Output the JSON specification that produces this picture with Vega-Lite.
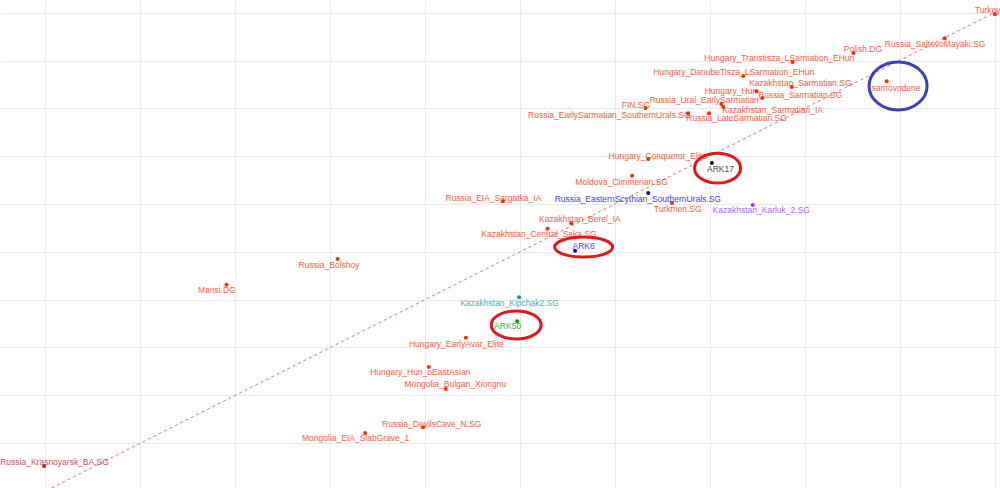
{
  "$schema": "https://vega.github.io/schema/vega-lite/v6.json",
  "width": 1000,
  "height": 488,
  "autosize": "none",
  "padding": 0,
  "background": "white",
  "config": {
    "view": {"stroke": null},
    "axis": {"labels": false, "ticks": false, "domain": false, "title": null, "grid": true, "gridColor": "#ebebeb", "gridWidth": 1},
    "text": {"font": "Liberation Sans"}
  },
  "datasets": {
    "pts": [
      {"name": "Turkey.DG", "grp": "ref", "x": 10.0, "y": 8.97, "lx": 10.0, "ly": 9.06},
      {"name": "Russia_SaltovoMayaki.SG", "grp": "ref", "x": 9.47, "y": 8.47, "lx": 9.37, "ly": 8.35},
      {"name": "Polish.DG", "grp": "ref", "x": 8.51, "y": 8.16, "lx": 8.61, "ly": 8.24},
      {"name": "Hungary_Transtisza_LSarmation_EHun", "grp": "ref", "x": 7.87, "y": 7.97, "lx": 7.73, "ly": 8.05},
      {"name": "Hungary_DanubeTisza_LSarmation_EHun", "grp": "ref", "x": 7.35, "y": 7.68, "lx": 7.25, "ly": 7.76},
      {"name": "Kazakhstan_Sarmatian.SG", "grp": "ref", "x": 7.86, "y": 7.45, "lx": 7.95, "ly": 7.53},
      {"name": "Hungary_Hun", "grp": "ref", "x": 7.49, "y": 7.36, "lx": 7.22, "ly": 7.36},
      {"name": "Russia_Sarmatian.SG", "grp": "ref", "x": 7.55, "y": 7.22, "lx": 7.95, "ly": 7.28},
      {"name": "Russia_Ural_EarlySarmatian", "grp": "ref", "x": 7.12, "y": 7.09, "lx": 6.94, "ly": 7.18},
      {"name": "Kazakhstan_Sarmatian_IA", "grp": "ref", "x": 7.14, "y": 7.03, "lx": 7.66, "ly": 6.97},
      {"name": "FIN.SG", "grp": "ref", "x": 6.32, "y": 7.01, "lx": 6.22, "ly": 7.07},
      {"name": "Russia_EarlySarmatian_SouthernUrals.SG", "grp": "ref", "x": 6.77, "y": 6.9, "lx": 5.94, "ly": 6.86},
      {"name": "Russia_LateSarmatian.SG", "grp": "ref", "x": 6.99, "y": 6.9, "lx": 7.28, "ly": 6.8},
      {"name": "samovodene", "grp": "ref", "x": 8.86, "y": 7.57, "lx": 8.96, "ly": 7.43},
      {"name": "Hungary_Conqueror_Elite", "grp": "ref", "x": 6.35, "y": 5.94, "lx": 6.45, "ly": 6.0},
      {"name": "ARK17", "grp": "ARK17", "x": 7.02, "y": 5.86, "lx": 7.11, "ly": 5.73},
      {"name": "Moldova_Cimmerian.SG", "grp": "ref", "x": 6.18, "y": 5.59, "lx": 6.07, "ly": 5.46},
      {"name": "Russia_EasternScythian_SouthernUrals.SG", "grp": "blue", "x": 6.35, "y": 5.23, "lx": 6.24, "ly": 5.1},
      {"name": "Turkmen.SG", "grp": "ref", "x": 6.6, "y": 5.02, "lx": 6.66, "ly": 4.9},
      {"name": "Kazakhstan_Karluk_2.SG", "grp": "karluk", "x": 7.45, "y": 4.98, "lx": 7.54, "ly": 4.87},
      {"name": "Kazakhstan_Berel_IA", "grp": "ref", "x": 5.54, "y": 4.6, "lx": 5.63, "ly": 4.69},
      {"name": "Kazakhstan_Central_Saka.SG", "grp": "ref", "x": 5.29, "y": 4.48, "lx": 5.2, "ly": 4.37},
      {"name": "ARK6", "grp": "blue", "x": 5.58, "y": 4.02, "lx": 5.67, "ly": 4.12},
      {"name": "Russia_EIA_Sargatka_IA", "grp": "ref", "x": 4.82, "y": 5.06, "lx": 4.72, "ly": 5.13},
      {"name": "Russia_Bolshoy", "grp": "ref", "x": 3.08, "y": 3.85, "lx": 2.99, "ly": 3.72},
      {"name": "Mansi.DG", "grp": "ref", "x": 1.91, "y": 3.31, "lx": 1.81, "ly": 3.2},
      {"name": "Kazakhstan_Kipchak2.SG", "grp": "kipchak", "x": 4.99, "y": 3.05, "lx": 4.89, "ly": 2.93},
      {"name": "ARK50", "grp": "ARK50", "x": 4.97, "y": 2.55, "lx": 4.87, "ly": 2.45},
      {"name": "Hungary_EarlyAvar_Elite", "grp": "ref", "x": 4.43, "y": 2.2, "lx": 4.33, "ly": 2.07},
      {"name": "Hungary_Hun_oEastAsian", "grp": "ref", "x": 4.04, "y": 1.59, "lx": 3.95, "ly": 1.49},
      {"name": "Mongolia_Bulgan_Xiongnu", "grp": "ref", "x": 4.22, "y": 1.13, "lx": 4.32, "ly": 1.23},
      {"name": "Russia_DevilsCave_N.SG", "grp": "ref", "x": 3.98, "y": 0.33, "lx": 4.07, "ly": 0.4},
      {"name": "Mongolia_EIA_SlabGrave_1", "grp": "ref", "x": 3.37, "y": 0.21, "lx": 3.27, "ly": 0.1},
      {"name": "Russia_Krasnoyarsk_BA.SG", "grp": "krasnoyarsk", "x": -0.01, "y": -0.48, "lx": 0.1, "ly": -0.4}
    ],
    "reg": [
      {"x": 0.07, "y": -0.94},
      {"x": 10.05, "y": 9.06}
    ],
    "ell": [
      {"name": "samovodene", "cx": 8.98, "cy": 7.47},
      {"name": "ARK17", "cx": 7.08, "cy": 5.75},
      {"name": "ARK6", "cx": 5.67, "cy": 4.1},
      {"name": "ARK50", "cx": 4.96, "cy": 2.47}
    ]
  },
  "layer": [
    {
      "data": {"name": "reg"},
      "mark": {"type": "line", "strokeDash": [3, 3], "color": "#f86a6a", "strokeWidth": 1, "clip": true},
      "encoding": {
        "x": {"field": "x", "type": "quantitative", "scale": {"domain": [-0.474, 10.053], "nice": false, "zero": false}, "axis": {"values": [0, 1, 2, 3, 4, 5, 6, 7, 8, 9, 10]}},
        "y": {"field": "y", "type": "quantitative", "scale": {"domain": [-0.941, 9.268], "nice": false, "zero": false}, "axis": {"values": [0, 1, 2, 3, 4, 5, 6, 7, 8, 9]}}
      }
    },
    {
      "data": {"name": "pts"},
      "mark": {"type": "circle", "size": 16, "opacity": 1},
      "encoding": {
        "x": {"field": "x", "type": "quantitative"},
        "y": {"field": "y", "type": "quantitative"},
        "color": {"field": "grp", "type": "nominal", "legend": null,
          "scale": {"domain": ["ref", "ARK17", "blue", "karluk", "kipchak", "ARK50", "krasnoyarsk"],
                    "range": ["#ff2a00", "#1a0a0a", "#0000ff", "#9933ff", "#00a0a0", "#009900", "#b22222"]}}
      }
    },
    {
      "data": {"name": "pts"},
      "mark": {"type": "text", "fontSize": 8.5, "opacity": 0.78, "align": "center", "baseline": "middle"},
      "encoding": {
        "x": {"field": "lx", "type": "quantitative"},
        "y": {"field": "ly", "type": "quantitative"},
        "text": {"field": "name"},
        "color": {"field": "grp", "type": "nominal", "legend": null}
      }
    },
    {
      "data": {"name": "ell"},
      "transform": [{"filter": "datum.name === 'samovodene'"}],
      "mark": {"type": "point", "shape": "M -1 0 A 1 0.83 0 1 1 1 0 A 1 0.83 0 1 1 -1 0 Z", "size": 3364, "filled": false, "stroke": "#3b3fc6", "strokeWidth": 3, "opacity": 1},
      "encoding": {"x": {"field": "cx", "type": "quantitative"}, "y": {"field": "cy", "type": "quantitative"}}
    },
    {
      "data": {"name": "ell"},
      "transform": [{"filter": "datum.name === 'ARK17'"}],
      "mark": {"type": "point", "shape": "M -1 0 A 1 0.65 0 1 1 1 0 A 1 0.65 0 1 1 -1 0 Z", "size": 2116, "filled": false, "stroke": "#e8141c", "strokeWidth": 3, "opacity": 1},
      "encoding": {"x": {"field": "cx", "type": "quantitative"}, "y": {"field": "cy", "type": "quantitative"}}
    },
    {
      "data": {"name": "ell"},
      "transform": [{"filter": "datum.name === 'ARK6'"}],
      "mark": {"type": "point", "shape": "M -1 0 A 1 0.345 0 1 1 1 0 A 1 0.345 0 1 1 -1 0 Z", "size": 3364, "filled": false, "stroke": "#e8141c", "strokeWidth": 3, "opacity": 1},
      "encoding": {"x": {"field": "cx", "type": "quantitative"}, "y": {"field": "cy", "type": "quantitative"}}
    },
    {
      "data": {"name": "ell"},
      "transform": [{"filter": "datum.name === 'ARK50'"}],
      "mark": {"type": "point", "shape": "M -1 0 A 1 0.56 0 1 1 1 0 A 1 0.56 0 1 1 -1 0 Z", "size": 2500, "filled": false, "stroke": "#e8141c", "strokeWidth": 3, "opacity": 1},
      "encoding": {"x": {"field": "cx", "type": "quantitative"}, "y": {"field": "cy", "type": "quantitative"}}
    }
  ]
}
